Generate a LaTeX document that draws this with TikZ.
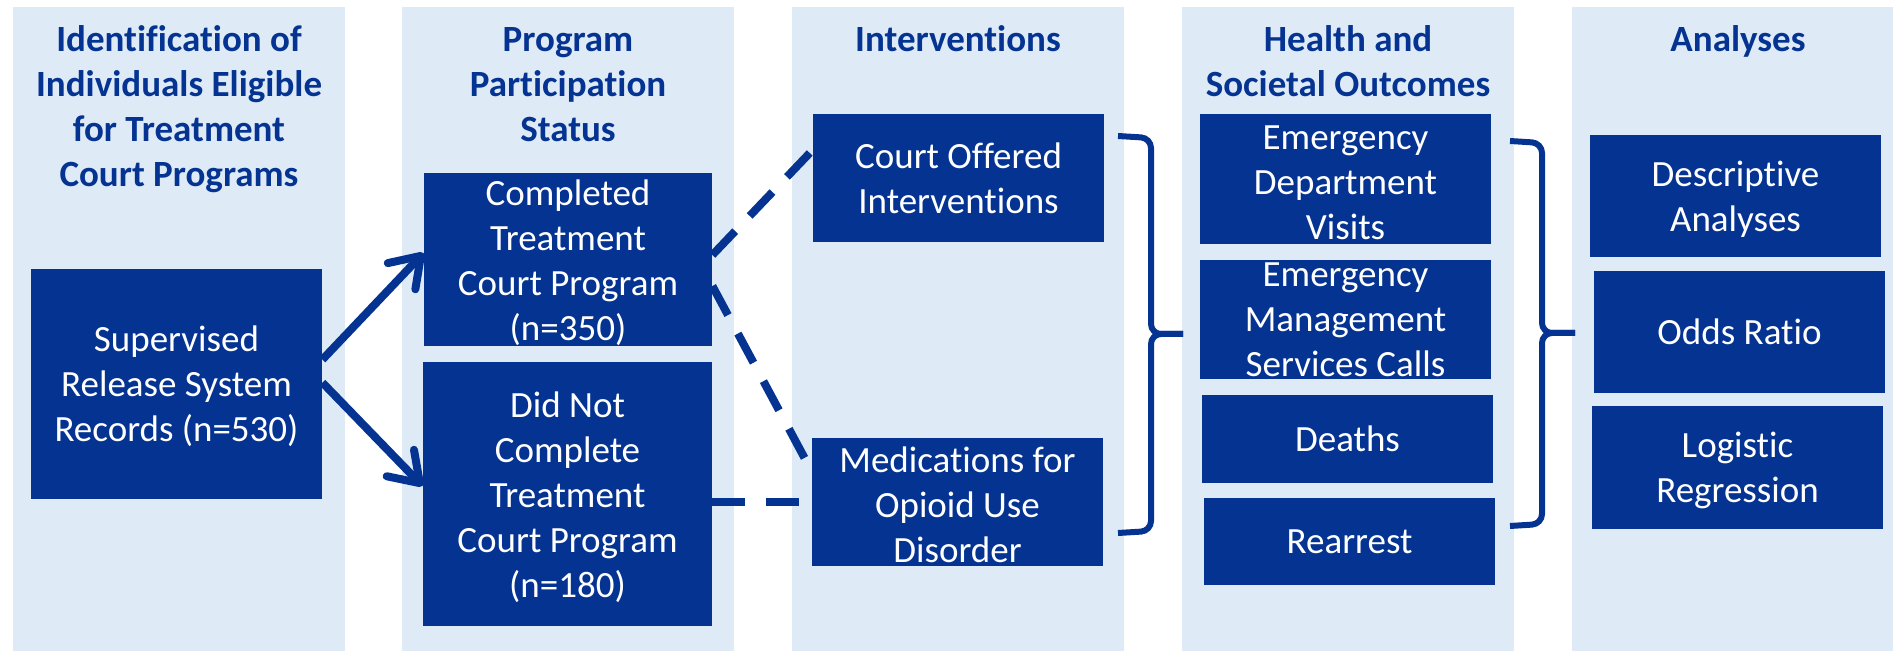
\documentclass[tikz,border=0pt]{standalone}
\usepackage{fontspec}
\setmainfont{Carlito}[Ligatures=NoCommon]
\usepackage{tikz}
\usetikzlibrary{arrows.meta}
\tikzset{>={Straight Barb[length=14pt,width=19pt,round]}}
\usepackage{xcolor}
\definecolor{boxblue}{HTML}{053391}
\definecolor{lanebg}{HTML}{DEEBF7}
\newcommand\diagfont{\fontsize{18.5}{22.5}\selectfont}

\begin{document}
\begin{tikzpicture}[x=0.5pt,y=-0.5pt,
    lane/.style={fill=lanebg},
    head/.style={boxblue,font=\diagfont\bfseries,align=center,anchor=north,inner sep=0},
    box/.style={white,fill=boxblue,font=\diagfont,align=center,inner sep=0,minimum width=145.5pt},
    arrow/.style={->,line width=4pt,boxblue},
    link/.style={line width=4pt,boxblue,dash pattern=on 16.5pt off 10.5pt},
    brace/.style={line width=3pt,boxblue,rounded corners=5pt}]
    \message{Treatment court study design^^J}

    \useasboundingbox (0,0) rectangle (1893,651);
    \foreach \xl in {13,402,792,1182,1572}
      \fill[lane] (\xl,7) rectangle ++(332,644);

    \node[head] (hid) at (179,20) {\strut Identification of\\Individuals Eligible\\for Treatment\\Court Programs};
    \node[head] (hpart) at (568,20) {\strut Program\\Participation\\Status};
    \node[head] (hint) at (958,20) {\strut Interventions};
    \node[head] (hout) at (1348,20) {\strut Health and\\Societal Outcomes};
    \node[head] (hana) at (1738,20) {\strut Analyses};

    \node[box,minimum height=115pt] (rec) at (176.5,383.6) {\strut Supervised\\Release System\\Records (n=530)};

    \node[box,minimum width=144pt,minimum height=86.5pt] (done) at (568,260) {\strut Completed\\Treatment\\Court Program\\(n=350)};
    \node[box,minimum width=144.5pt,minimum height=132pt] (notdone) at (567.5,494) {\strut Did Not\\Complete\\Treatment\\Court Program\\(n=180)};

    \node[box,minimum height=64pt] (court) at (958.5,178) {Court Offered\\Interventions};
    \node[box,minimum height=63.75pt] (moud) at (957.5,501.8) {\strut Medications for\\Opioid Use\\Disorder};

    \node[box,minimum height=65pt] (edv) at (1345.5,179) {\strut Emergency\\Department\\Visits};
    \node[box,minimum height=59.5pt] (ems) at (1345.5,319.5) {Emergency\\Management\\Services Calls};
    \node[box,minimum height=44pt] (deaths) at (1347.5,439) {Deaths};
    \node[box,minimum height=43.5pt] (rearrest) at (1349.5,541.5) {Rearrest};

    \node[box,minimum height=61pt] (descr) at (1735.5,196) {\strut Descriptive\\Analyses};
    \node[box,minimum height=61pt] (odds) at (1739.5,332) {Odds Ratio};
    \node[box,minimum height=61.5pt] (logit) at (1737.5,467.5) {\strut Logistic\\Regression};

    \draw[arrow] ([yshift=12pt]rec.east) -- ([yshift=3.5pt]done.west);
    \draw[arrow] ([yshift=0.5pt]rec.east) -- ([yshift=4pt]notdone.west);

    \draw[link] ([yshift=2.5pt]done.east) -- ([yshift=14pt]court.west);
    \draw[link] ([yshift=-13pt]done.east) -- ([xshift=-2.5pt,yshift=20pt]moud.west);
    \draw[link] (notdone.east |- moud.west) -- ([xshift=-5pt]moud.west);

    \draw[brace] (1118,136) -- (1151,138) -- (1151,334) -- (1183,334);
    \draw[brace] (1183,334) -- (1151,334) -- (1151,531) -- (1118,533);
    \draw[brace] (1510,141) -- (1542,143) -- (1542,333) -- (1575,333);
    \draw[brace] (1575,333) -- (1542,333) -- (1542,524) -- (1510,526);

    \end{tikzpicture}
\end{document}
